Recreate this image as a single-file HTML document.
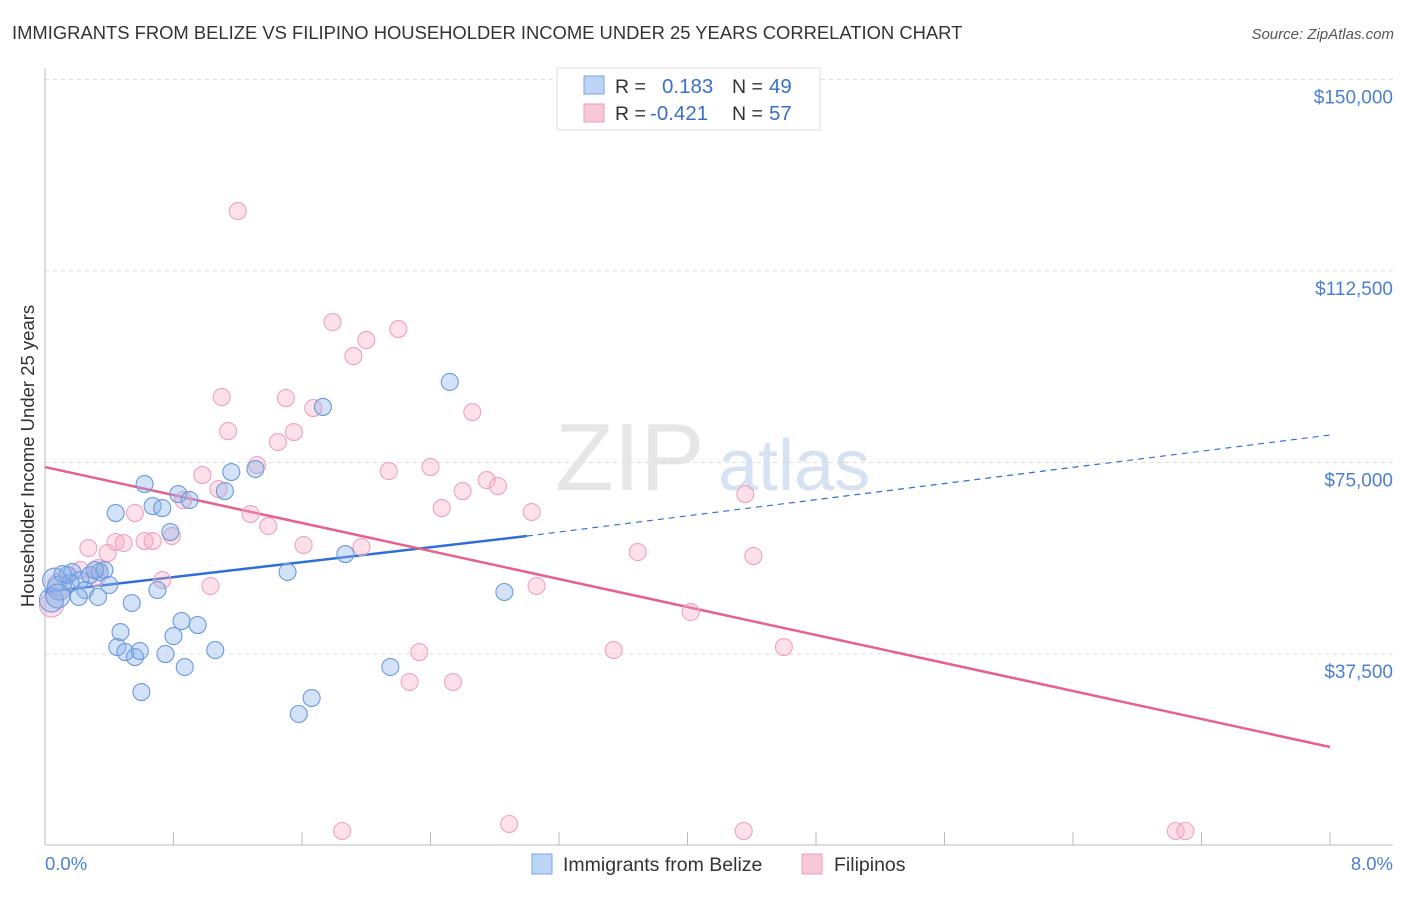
<!DOCTYPE html>
<html><head><meta charset="utf-8"><style>
body{margin:0;background:#fff;font-family:"Liberation Sans",sans-serif;}
svg text{font-family:"Liberation Sans",sans-serif;}
</style></head><body>
<svg id="chart" width="1406" height="892" xmlns="http://www.w3.org/2000/svg">
<text x="12" y="39" font-size="18.4" fill="#333">IMMIGRANTS FROM BELIZE VS FILIPINO HOUSEHOLDER INCOME UNDER 25 YEARS CORRELATION CHART</text>
<text x="1394" y="39" font-size="15" fill="#555" font-style="italic" text-anchor="end">Source: ZipAtlas.com</text>
<text x="555" y="490" font-size="96" fill="#e6e6e6" font-family="Liberation Serif">ZIP</text>
<text x="718" y="490" font-size="72" fill="#d6e2f2">atlas</text>
<g id="grid"></g><g id="axes"></g><g id="trends"></g><g id="pts"></g>
<text transform="translate(34,456) rotate(-90)" font-size="18.5" fill="#333" text-anchor="middle">Householder Income Under 25 years</text>
<text x="45" y="870" font-size="18.5" fill="#4a7fd4">0.0%</text>
<text x="1393" y="870" font-size="18.5" fill="#4a7fd4" text-anchor="end">8.0%</text>
<g>
<rect x="557" y="68" width="263" height="62" fill="#fff" stroke="#ddd"/>
<rect x="584" y="76" width="20" height="18" fill="#bcd4f5" stroke="#7aa4e0"/>
<rect x="584" y="104" width="20" height="18" fill="#f8c8d6" stroke="#ee9fb8"/>
<text x="615" y="93" font-size="19.5" fill="#333">R = </text><text x="662" y="93" font-size="20.5" fill="#3a70cc">0.183</text>
<text x="732" y="93" font-size="19.5" fill="#333">N = </text><text x="769" y="93" font-size="20.5" fill="#3a70cc">49</text>
<text x="615" y="120" font-size="19.5" fill="#333">R = </text><text x="650" y="120" font-size="20.5" fill="#3a70cc">-0.421</text>
<text x="732" y="120" font-size="19.5" fill="#333">N = </text><text x="769" y="120" font-size="20.5" fill="#3a70cc">57</text>
</g>
<g>
<rect x="532" y="854" width="20" height="20" fill="#bcd4f5" stroke="#7aa4e0"/>
<text x="563" y="871" font-size="19.5" fill="#333">Immigrants from Belize</text>
<rect x="802" y="854" width="20" height="20" fill="#f8c8d6" stroke="#ee9fb8"/>
<text x="834" y="871" font-size="19.5" fill="#333">Filipinos</text>
</g>
</svg>
<script>
const yTicks=[37500,75000,112500,150000];
const yTickLabels=["$37,500","$75,000","$112,500","$150,000"];
const xTicks=[0,0.8,1.6,2.4,3.2,4.0,4.8,5.6,6.4,7.2,8.0];
const blueX=[0.06,0.04,0.09,0.14,0.17,0.22,0.28,0.34,0.37,0.40,0.25,0.33,0.21,0.44,0.62,0.67,0.73,0.83,0.90,0.78,0.54,0.47,0.45,0.50,0.56,0.59,0.60,0.75,0.87,0.80,0.85,0.95,1.06,0.70,1.12,1.16,1.31,1.51,1.58,1.66,1.73,1.87,2.15,2.52,2.86,0.16,0.11,0.31,0.08];
const blueY=[51980,48070,50420,52960,53550,51980,52960,53550,53940,51010,50030,48660,48660,65100,70780,66470,66080,68820,67650,61380,47480,41800,38860,37880,36900,38080,30050,37490,34950,41010,43950,43170,38270,50030,69410,73130,73720,53550,25750,28880,85880,57070,34950,90770,49640,51400,53160,53940,48860];
const pinkX=[1.20,1.79,2.20,2.00,1.92,1.10,1.50,2.66,1.67,1.14,1.55,1.45,1.32,2.14,2.40,0.98,2.75,2.82,2.60,1.08,0.86,4.36,2.47,3.03,1.28,0.56,1.39,0.27,0.39,0.44,0.49,0.62,0.67,0.79,1.61,1.97,3.69,4.41,0.73,1.03,3.06,4.02,4.60,3.54,2.33,2.27,2.54,0.33,0.22,0.09,0.04,1.85,2.89,4.35,7.04,7.10,0.32];
const pinkY=[124230,102500,101130,98970,95840,87810,87620,84880,85660,81160,80960,79000,74500,73320,74110,72540,71560,70390,69410,69800,67650,68820,66080,65300,64910,65100,62560,58250,57270,59430,59230,59620,59620,60600,58840,58450,57460,56680,51980,50810,50810,45720,38860,38270,37880,32010,32010,54330,53940,51010,47090,2840,4210,2840,2840,2840,52370];
const blueTrendX=[0,3.0,8];
const blueTrendY=[49640,60600,80380];
const pinkTrendX=[0,8];
const pinkTrendY=[74110,19290];
const NS="http://www.w3.org/2000/svg";
const xs=v=>45+v/8*1285;
const ys=v=>845.5-v/37500*191.5;
function mk(t,a,p){const e=document.createElementNS(NS,t);for(const k in a)e.setAttribute(k,a[k]);document.getElementById(p).appendChild(e);return e;}
yTicks.forEach((t,i)=>{
 const l=mk('line',{x1:45,x2:1393,y1:ys(t),y2:ys(t),stroke:'#ddd','stroke-dasharray':'4,4'},'grid');
 
 
 const tx=mk('text',{x:1393,y:ys(t)+24,'font-size':19,fill:'#4a7fd4','text-anchor':'end'},'grid');
 tx.textContent=yTickLabels[i];
 
 
});
const ya=mk('line',{x1:45,x2:45,y1:68,y2:845,stroke:'#bbb'},'axes');


const xa=mk('line',{x1:45,x2:1393,y1:845,y2:845,stroke:'#bbb'},'axes');


xTicks.forEach(t=>{
 const l=mk('line',{x1:xs(t),x2:xs(t),y1:832,y2:845,stroke:'#bbb'},'axes');
 
 
});
function pts(X,Y,fill,stroke,name){
 X.forEach((x,i)=>{
  const big=x<0.1;
  const c=mk('circle',{cx:xs(x),cy:ys(Y[i]),r:big?12:8.5,fill:fill,stroke:stroke,'stroke-width':1.1},'pts');
  
  
 });
}
pts(pinkX,pinkY,'rgba(245,170,195,0.35)','#eea3bb','filipinos-point');
pts(blueX,blueY,'rgba(140,180,235,0.38)','#6a9ade','belize-point');
const b1=mk('line',{x1:xs(blueTrendX[0]),y1:ys(blueTrendY[0]),x2:xs(blueTrendX[1]),y2:ys(blueTrendY[1]),stroke:'#2f6fd6','stroke-width':2.5},'trends');


const b2=mk('line',{x1:xs(blueTrendX[1]),y1:ys(blueTrendY[1]),x2:xs(blueTrendX[2]),y2:ys(blueTrendY[2]),stroke:'#2f6fd6','stroke-width':1.2,'stroke-dasharray':'6,5'},'trends');


const p1=mk('line',{x1:xs(pinkTrendX[0]),y1:ys(pinkTrendY[0]),x2:xs(pinkTrendX[1]),y2:ys(pinkTrendY[1]),stroke:'#e8608e','stroke-width':2.5},'trends');


</script>
</body></html>
